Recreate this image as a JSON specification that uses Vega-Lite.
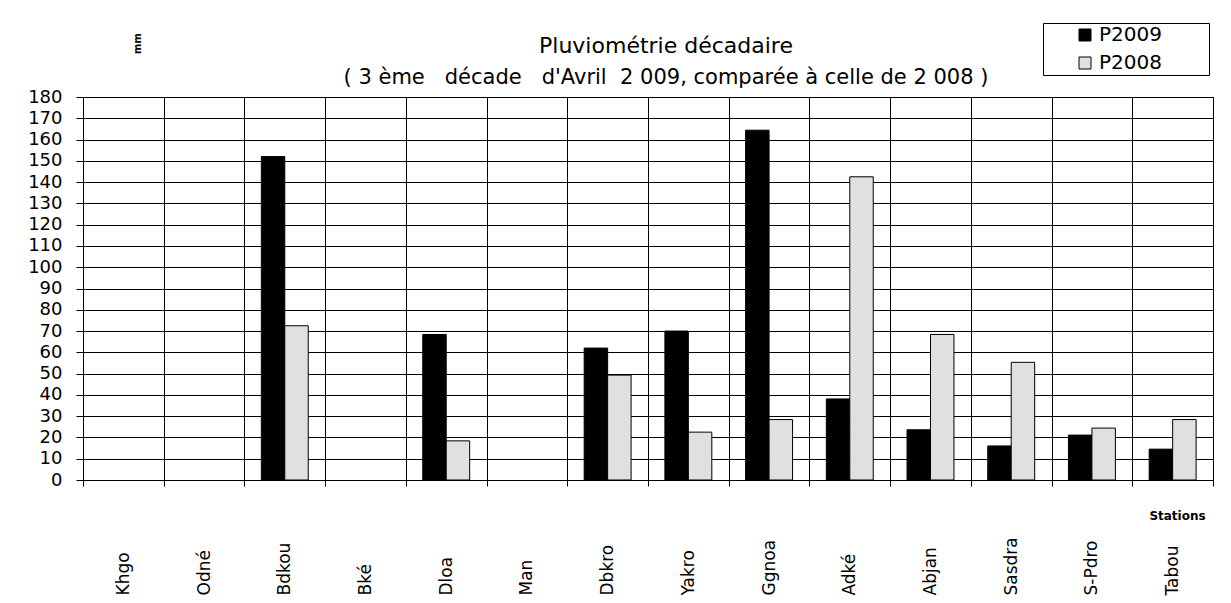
{
  "$schema": "https://vega.github.io/schema/vega-lite/v6.json",
  "width": 1130,
  "height": 383,
  "autosize": "none",
  "padding": {"left": 83, "top": 97, "right": 18, "bottom": 123},
  "background": "white",
  "data": {
    "values": [
      {"station": "Bdkou", "serie": "P2009", "pluie": 152},
      {"station": "Bdkou", "serie": "P2008", "pluie": 72.5},
      {"station": "Dloa", "serie": "P2009", "pluie": 68.4},
      {"station": "Dloa", "serie": "P2008", "pluie": 18.4},
      {"station": "Dbkro", "serie": "P2009", "pluie": 62},
      {"station": "Dbkro", "serie": "P2008", "pluie": 49.3},
      {"station": "Yakro", "serie": "P2009", "pluie": 70},
      {"station": "Yakro", "serie": "P2008", "pluie": 22.5},
      {"station": "Ggnoa", "serie": "P2009", "pluie": 164.4},
      {"station": "Ggnoa", "serie": "P2008", "pluie": 28.4},
      {"station": "Adké", "serie": "P2009", "pluie": 38.1},
      {"station": "Adké", "serie": "P2008", "pluie": 142.5},
      {"station": "Abjan", "serie": "P2009", "pluie": 23.6},
      {"station": "Abjan", "serie": "P2008", "pluie": 68.4},
      {"station": "Sasdra", "serie": "P2009", "pluie": 16},
      {"station": "Sasdra", "serie": "P2008", "pluie": 55.3},
      {"station": "S-Pdro", "serie": "P2009", "pluie": 21.1},
      {"station": "S-Pdro", "serie": "P2008", "pluie": 24.4},
      {"station": "Tabou", "serie": "P2009", "pluie": 14.5},
      {"station": "Tabou", "serie": "P2008", "pluie": 28.4}
    ]
  },
  "title": {
    "text": "Pluviométrie décadaire",
    "subtitle": "( 3 ème\u00a0\u00a0 décade\u00a0\u00a0 d'Avril\u00a0 2 009, comparée à celle de 2 008 )",
    "anchor": "middle",
    "frame": "group",
    "font": "DejaVu Sans",
    "fontSize": 22,
    "fontWeight": "normal",
    "color": "black",
    "subtitleFont": "DejaVu Sans",
    "subtitleFontSize": 21,
    "subtitleColor": "black",
    "subtitlePadding": 9,
    "offset": 10,
    "dx": 18,
    "dy": 76
  },
  "mark": {"type": "bar", "stroke": "black", "strokeWidth": 1},
  "encoding": {
    "x": {
      "field": "station",
      "type": "nominal",
      "sort": null,
      "scale": {
        "domain": ["Khgo", "Odné", "Bdkou", "Bké", "Dloa", "Man", "Dbkro", "Yakro", "Ggnoa", "Adké", "Abjan", "Sasdra", "S-Pdro", "Tabou"],
        "paddingInner": 0,
        "paddingOuter": 0
      },
      "axis": {
        "title": "Stations",
        "titleX": 1094,
        "titleY": 35,
        "titleFont": "DejaVu Sans",
        "titleFontSize": 12,
        "titleFontWeight": "bold",
        "titleColor": "black",
        "titleAlign": "center",
        "titleBaseline": "middle",
        "labelAngle": -90,
        "labelAlign": "left",
        "labelBaseline": "middle",
        "labelPadding": 109,
        "labelFont": "DejaVu Sans",
        "labelFontSize": 17,
        "labelColor": "black",
        "tickBand": "extent",
        "tickSize": 6,
        "tickColor": "black",
        "domainColor": "black",
        "grid": true,
        "gridColor": "black",
        "gridOpacity": 1,
        "gridWidth": 1
      }
    },
    "xOffset": {"field": "serie", "type": "nominal", "scale": {"domain": ["P2009", "P2008"], "paddingInner": 0, "paddingOuter": 0.72}},
    "y": {
      "field": "pluie",
      "type": "quantitative",
      "scale": {"domain": [0, 180], "nice": false},
      "axis": {
        "title": "mm",
        "titleX": 54,
        "titleY": -54,
        "titleAngle": -90,
        "titleFont": "DejaVu Sans",
        "titleFontSize": 10,
        "titleFontWeight": "bold",
        "titleColor": "black",
        "titleAlign": "center",
        "titleBaseline": "middle",
        "values": [0, 10, 20, 30, 40, 50, 60, 70, 80, 90, 100, 110, 120, 130, 140, 150, 160, 170, 180],
        "labelOverlap": false,
        "labelFont": "DejaVu Sans",
        "labelFontSize": 18,
        "labelColor": "black",
        "labelPadding": 14,
        "tickSize": 7,
        "tickColor": "black",
        "domainColor": "black",
        "grid": true,
        "gridColor": "black",
        "gridOpacity": 1,
        "gridWidth": 1
      }
    },
    "color": {
      "field": "serie",
      "type": "nominal",
      "scale": {"domain": ["P2009", "P2008"], "range": ["#000000", "#e0e0e0"]},
      "legend": {
        "orient": "none",
        "legendX": 960,
        "legendY": -74,
        "title": null,
        "direction": "vertical",
        "strokeColor": "black",
        "fillColor": "white",
        "padding": 2,
        "symbolType": "square",
        "symbolSize": 144,
        "symbolStrokeColor": "black",
        "symbolStrokeWidth": 1,
        "symbolOffset": 30,
        "labelFont": "DejaVu Sans",
        "labelFontSize": 20,
        "labelColor": "black",
        "labelOffset": 4,
        "rowPadding": 8,
        "labelExpr": "datum.label + '\u00a0\u00a0\u00a0\u00a0\u00a0\u00a0\u00a0\u200b'"
      }
    }
  },
  "config": {
    "view": {"stroke": "black", "strokeWidth": 1},
    "font": "DejaVu Sans"
  }
}
